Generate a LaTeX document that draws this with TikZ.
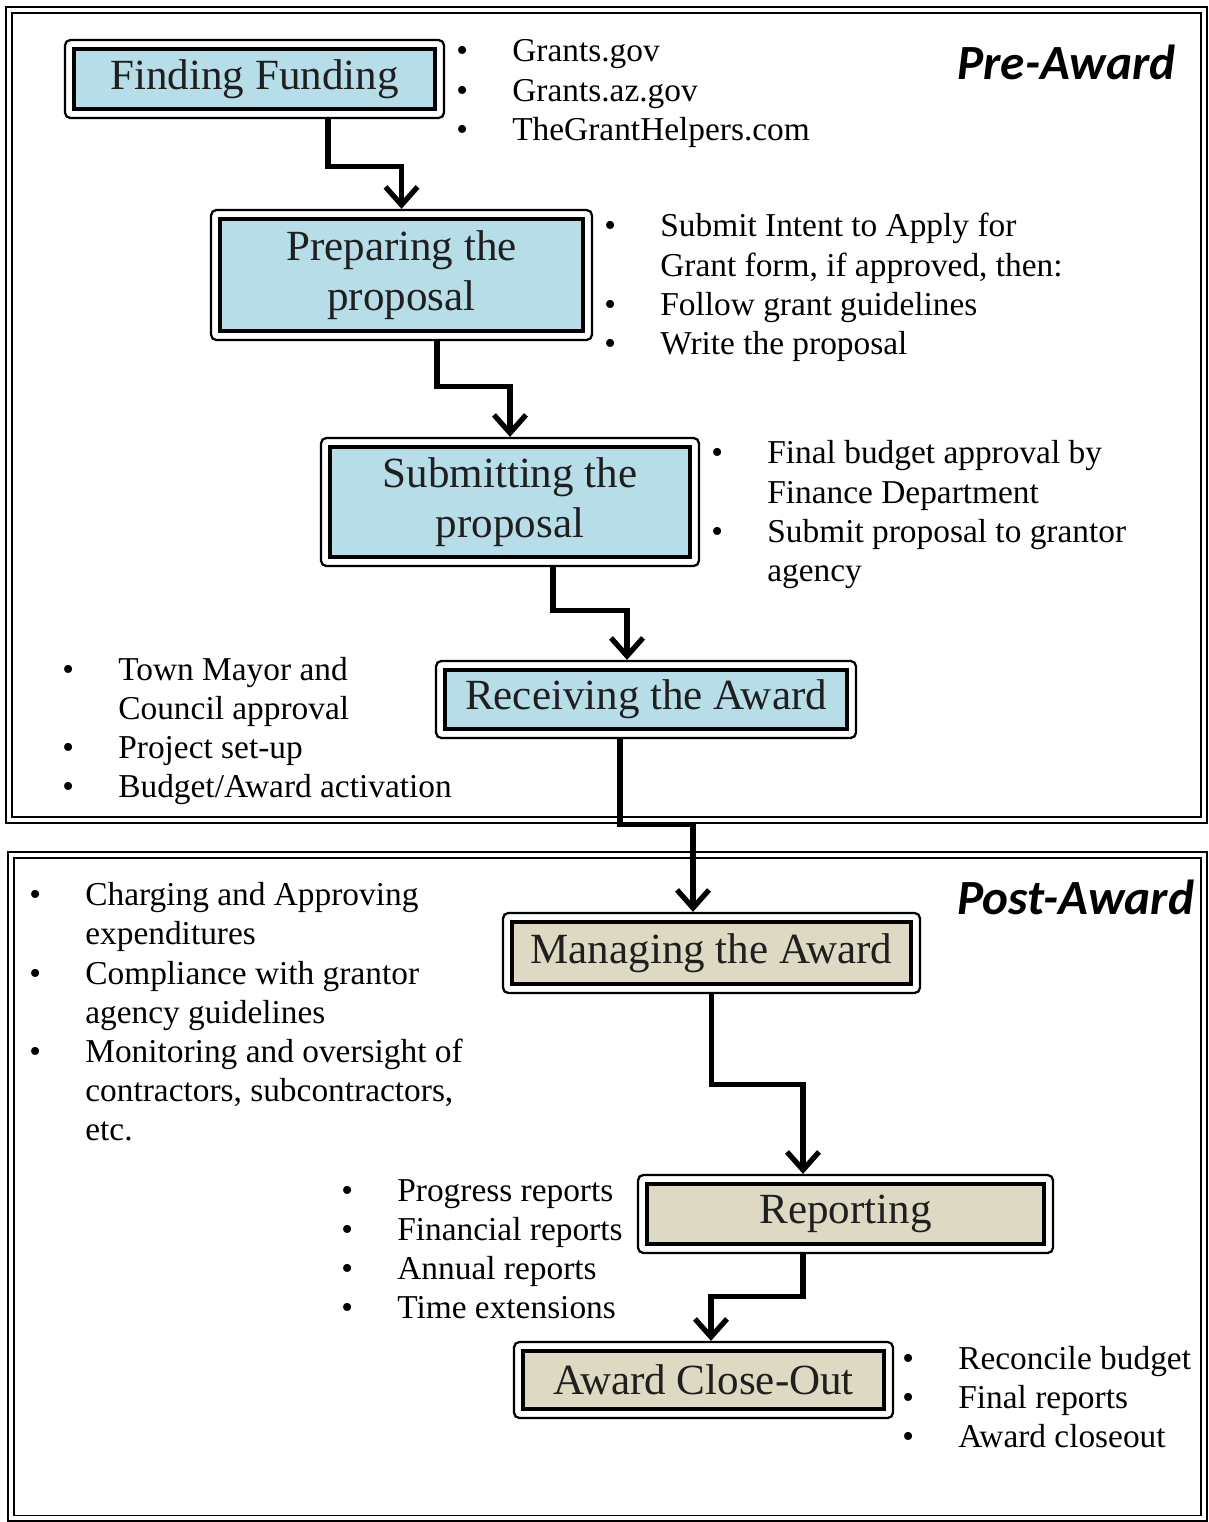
\documentclass[tikz,border=0pt]{standalone}
\usepackage{fontspec}
\setmainfont{Liberation Serif}
\newfontfamily\phasefont{Carlito}
\usetikzlibrary{arrows.meta, fit}

\definecolor{preblue}{HTML}{B7DDE8}
\definecolor{posttan}{HTML}{DDD9C3}
\newcommand{\bul}{\makebox[1.12cm][l]{\textbullet}}
\newcommand{\nobul}{\hspace*{1.12cm}}

\tikzset{
  stage/.style={draw=black, line width=2.4pt, fill=#1, align=center, inner sep=0pt, outer sep=0pt,
    font=\fontsize{24.5}{28.4}\selectfont, text=black!88},
  stageframe/.style={draw=black, line width=1.3pt, rounded corners=3pt, inner sep=0.18cm},
  notes/.style={anchor=base west, align=left, inner sep=0pt, font=\fontsize{19}{22.2}\selectfont},
  phase/.style={anchor=base west, inner sep=0pt, font=\phasefont\bfseries\itshape\fontsize{28}{32}\selectfont},
  flow/.style={line width=3pt, -{Straight Barb[length=0.36cm, width=0.64cm]}},
  frame/.style={draw=black, line width=1pt, double, double distance=2pt}
}

\begin{document}
\begin{tikzpicture}[x=0.02cm, y=-0.02cm]
  \useasboundingbox (0,0) rectangle (1209,1522);
  % two phase frames
  \draw[frame] (9,10) rectangle (1204,820);
  \draw[frame] (11,855) rectangle (1204,1518);
  \node[phase] (pre) at (957,79) {Pre-Award};
  \node[phase] (post) at (957,914) {Post-Award};

  % stages
  \node[stage=preblue, minimum width=7.22cm, minimum height=1.2cm] (ff) at (254.5,79) {Finding Funding};
  \node[stage=preblue, minimum width=7.26cm, minimum height=2.24cm] (prep) at (401.5,275) {Preparing the\\ proposal};
  \node[stage=preblue, minimum width=7.2cm, minimum height=2.2cm] (sub) at (510,502) {Submitting the\\ proposal};
  \node[stage=preblue, minimum width=8.04cm, minimum height=1.18cm] (rec) at (646,699.5) {Receiving the Award};
  \node[stage=posttan, minimum width=7.98cm, minimum height=1.24cm] (man) at (711.5,953) {Managing the Award};
  \node[stage=posttan, minimum width=7.94cm, minimum height=1.2cm] (rep) at (845.5,1214) {Reporting};
  \node[stage=posttan, minimum width=7.22cm, minimum height=1.16cm] (clo) at (703.5,1380) {Award Close-Out};
  \foreach \s in {ff, prep, sub, rec, man, rep, clo}
    \node[stageframe, fit=(\s)] (\s-f) {};

  % notes beside the stages (placed at the baseline of their last line)
  \node[notes] (ff-notes) at (456,140) {\bul Grants.gov\\ \bul Grants.az.gov\\ \bul TheGrantHelpers.com};
  \node[notes] (prep-notes) at (604,354) {\bul Submit Intent to Apply for\\ \nobul Grant form, if approved, then:\\
    \bul Follow grant guidelines\\ \bul Write the proposal};
  \node[notes] (sub-notes) at (711,581) {\bul Final budget approval by\\ \nobul Finance Department\\
    \bul Submit proposal to grantor\\ \nobul agency};
  \node[notes] (rec-notes) at (62,797) {\bul Town Mayor and\\ \nobul Council approval\\
    \bul Project set-up\\ \bul Budget/Award activation};
  \node[notes] (man-notes) at (29,1140) {\bul Charging and Approving\\ \nobul expenditures\\
    \bul Compliance with grantor\\ \nobul agency guidelines\\ \bul Monitoring and oversight of\\
    \nobul contractors, subcontractors,\\ \nobul etc.};
  \node[notes] (rep-notes) at (341,1318) {\bul Progress reports\\ \bul Financial reports\\
    \bul Annual reports\\ \bul Time extensions};
  \node[notes] (clo-notes) at (902,1447) {\bul Reconcile budget\\ \bul Final reports\\ \bul Award closeout};

  % flow between stages
  \draw[flow] ([xshift=1.47cm]ff-f.south) -- ++(0,47) -| (prep-f.north);
  \draw[flow] ([xshift=0.71cm]prep-f.south) -- ++(0,45) -| (sub-f.north);
  \draw[flow] ([xshift=0.86cm]sub-f.south) -- ++(0,43) -| ([xshift=-0.38cm]rec-f.north);
  \draw[flow] ([xshift=-0.52cm]rec-f.south) -- ++(0,85) -| ([xshift=-0.37cm]man-f.north);
  \draw[flow] (man-f.south) -- ++(0,90) -| ([xshift=-0.85cm]rep-f.north);
  \draw[flow] ([xshift=-0.85cm]rep-f.south) -- ++(0,42) -| ([xshift=0.15cm]clo-f.north);
\end{tikzpicture}
\end{document}
